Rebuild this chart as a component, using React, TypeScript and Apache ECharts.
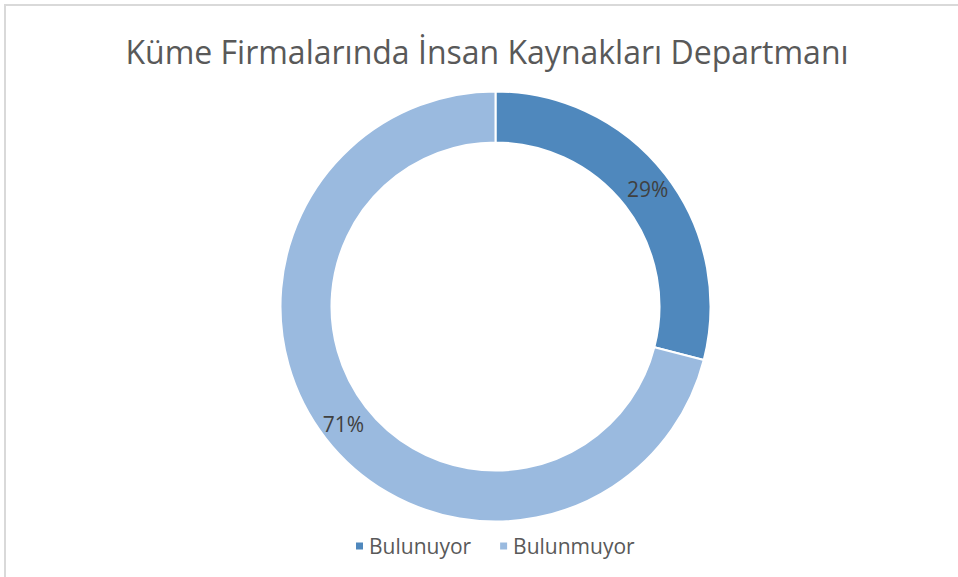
import React, { useEffect, useRef } from "react";
import * as echarts from "echarts";

const titleText = "Küme Firmalarında İnsan Kaynakları Departmanı";
const categories = ["Bulunuyor", "Bulunmuyor"];
const values = [29, 71];
const colors = ["#4f88bd", "#9abadf"];

const FONT = "'Open Sans', sans-serif";

export default function App() {
  const ref = useRef<HTMLDivElement>(null);
  useEffect(() => {
    if (!ref.current) return;
    const chart = echarts.init(ref.current, null, { renderer: "svg" });
    chart.setOption({
      animation: false,
      backgroundColor: "#ffffff",
      title: {
        text: titleText,
        left: 482,
        textAlign: "center",
        top: 30,
        textStyle: {
          fontFamily: FONT,
          fontSize: 32,
          fontWeight: "normal",
          color: "#595959",
        },
      },
      graphic: [
        {
          type: "rect",
          silent: true,
          shape: { x: 5, y: 5, width: 1100, height: 1100 },
          style: { fill: "none", stroke: "#d9d9d9", lineWidth: 2 },
        },
      ],
      legend: {
        data: categories,
        left: 349,
        top: 530,
        icon: "rect",
        itemWidth: 9,
        itemHeight: 9,
        itemGap: 27,
        selectedMode: false,
        textStyle: {
          fontFamily: FONT,
          fontSize: 21,
          color: "#595959",
          lineHeight: 22,
        },
      },
      series: [
        {
          type: "pie",
          center: [495.5, 306.5],
          radius: [164, 215],
          startAngle: 90,
          clockwise: true,
          silent: true,
          itemStyle: { borderColor: "#ffffff", borderWidth: 2 },
          label: {
            show: true,
            position: "inside",
            formatter: (p: any) => Math.round(p.percent) + "%",
            fontFamily: FONT,
            fontSize: 21,
            color: "#404040",
          },
          labelLine: { show: false },
          emphasis: { disabled: true },
          data: categories.map((c, i) => ({
            name: c,
            value: values[i],
            itemStyle: { color: colors[i] },
          })),
        },
      ],
    });
    return () => chart.dispose();
  }, []);
  return (
    <div
      ref={ref}
      style={{ position: "fixed", left: 0, top: 0, width: 958, height: 577 }}
    />
  );
}
